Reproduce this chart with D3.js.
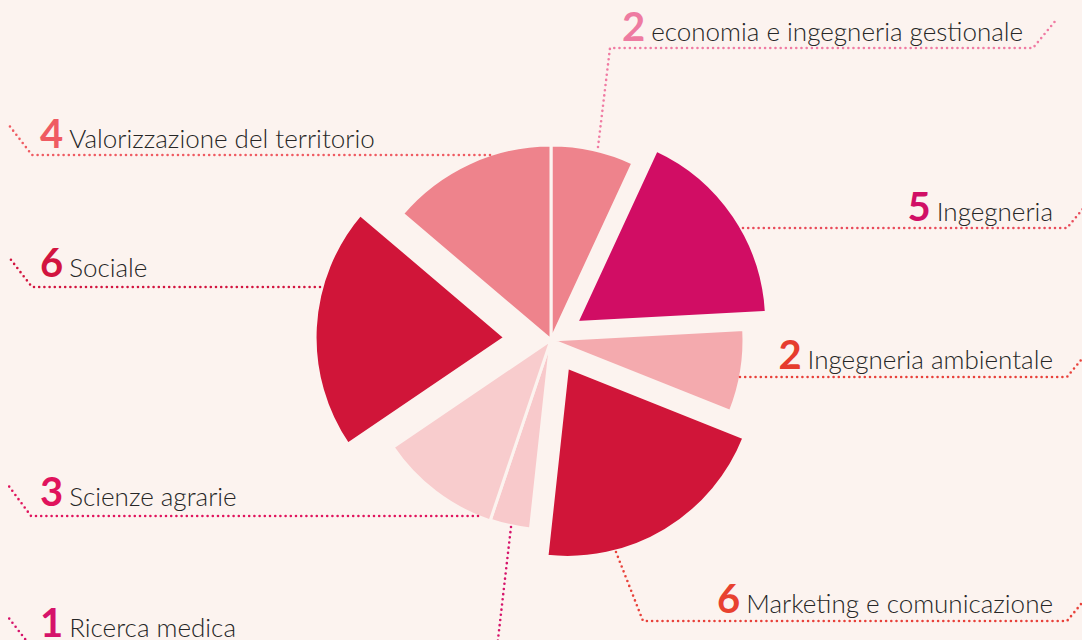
<!DOCTYPE html>
<meta charset="utf-8">
<style>
  body { margin: 0; background: #FCF3EF; }
</style>

<!-- Load d3.js -->
<script src="https://cdn.jsdelivr.net/npm/d3@7"></script>

<!-- Create a div where the graph will take place -->
<div id="my_dataviz"></div>

<script>

    // data: number of projects per area, clockwise from 12 o'clock
    var categories = ["economia e ingegneria gestionale", "Ingegneria", "Ingegneria ambientale",
                      "Marketing e comunicazione", "Ricerca medica", "Scienze agrarie",
                      "Sociale", "Valorizzazione del territorio"]
    var values = [2, 5, 2, 6, 1, 3, 6, 4]

    // styles
    var sliceColors  = ["#EE838C", "#D10D64", "#F4AAAE", "#D01539", "#F8C9CB", "#F8CCCD", "#D01539", "#EE838C"]
    var numberColors = ["#EE7BA1", "#D10F66", "#E63C2E", "#E8412F", "#D6136A", "#E0135C", "#D2143F", "#EF5B62"]
    var leaderColors = ["#F07BA3", "#E94B5A", "#E8413A", "#E8413A", "#D6136A", "#E0135C", "#D2143F", "#EF5B62"]
    var radii   = [195, 190, 193, 190, 190, 191, 190, 195]
    var explode = [0, 31, 0, 32, 0, 0, 46, 0]

    // label layout (anchor point of the text + leader polyline)
    var labelLayout = [
      {x: 622,  y: 41,  anchor: "start", leader: [[598,147],[610,48],[1033,48],[1057,19]]},
      {x: 1053, y: 221, anchor: "end",   leader: [[743,228],[1067,228],[1091,199]]},
      {x: 1053, y: 369, anchor: "end",   leader: [[740,377],[1067,377],[1091,348]]},
      {x: 1053, y: 613, anchor: "end",   leader: [[616,552],[643,621],[1067,621],[1091,592]]},
      {x: 40,   y: 637, anchor: "start", leader: [[511,527],[497,648],[32,648],[8,617]]},
      {x: 40,   y: 506, anchor: "start", leader: [[478,516],[31,516],[8,485]]},
      {x: 40,   y: 277, anchor: "start", leader: [[320,287],[32,287],[8,256]]},
      {x: 40,   y: 148, anchor: "start", leader: [[490,155],[32,155],[8,124]]}
    ]

    var width = 1082, height = 640
    var cx = 551, cy = 340

    // append the svg object to the body of the page
    var svg = d3.select("#my_dataviz")
      .append("svg")
        .attr("width", width)
        .attr("height", height)
        .style("display", "block")

    svg.append("rect")
        .attr("width", width)
        .attr("height", height)
        .attr("fill", "#FCF3EF")

    // pie layout, keep the given order
    var pie = d3.pie().sort(null).value(function(d) { return d })
    var arcs = pie(values)

    var arc = d3.arc()
      .innerRadius(0)
      .outerRadius(function(d) { return radii[d.index] })

    // slices (some pulled out from the center)
    svg.append("g")
        .attr("transform", "translate(" + cx + "," + cy + ")")
      .selectAll("path")
      .data(arcs)
      .enter()
      .append("path")
        .attr("d", arc)
        .attr("fill", function(d) { return sliceColors[d.index] })
        .attr("stroke", "#FCF3EF")
        .attr("stroke-width", 3)
        .attr("stroke-linejoin", "miter")
        .attr("transform", function(d) {
          var a = (d.startAngle + d.endAngle) / 2
          var off = explode[d.index]
          return "translate(" + (off * Math.sin(a)) + "," + (-off * Math.cos(a)) + ")"
        })

    // dotted leader lines
    var line = d3.line()
    svg.append("g")
      .selectAll("path")
      .data(labelLayout)
      .enter()
      .append("path")
        .attr("d", function(d) { return line(d.leader) })
        .attr("fill", "none")
        .attr("stroke", function(d, i) { return leaderColors[i] })
        .attr("stroke-width", 2.6)
        .attr("stroke-linecap", "round")
        .attr("stroke-dasharray", "0 5.2")

    // labels: bold number + name
    var labels = svg.append("g")
      .selectAll("text")
      .data(labelLayout)
      .enter()
      .append("text")
        .attr("x", function(d) { return d.x })
        .attr("y", function(d) { return d.y })
        .attr("text-anchor", function(d) { return d.anchor })
        .style("font-family", "Lato, 'Open Sans', sans-serif")

    labels.append("tspan")
        .text(function(d, i) { return values[i] })
        .style("font-size", "40px")
        .style("font-weight", 700)
        .attr("fill", function(d, i) { return numberColors[i] })

    labels.append("tspan")
        .attr("dx", 6)
        .text(function(d, i) { return categories[i] })
        .style("font-size", "26px")
        .style("font-weight", 300)
        .attr("fill", "#262626")

</script>
